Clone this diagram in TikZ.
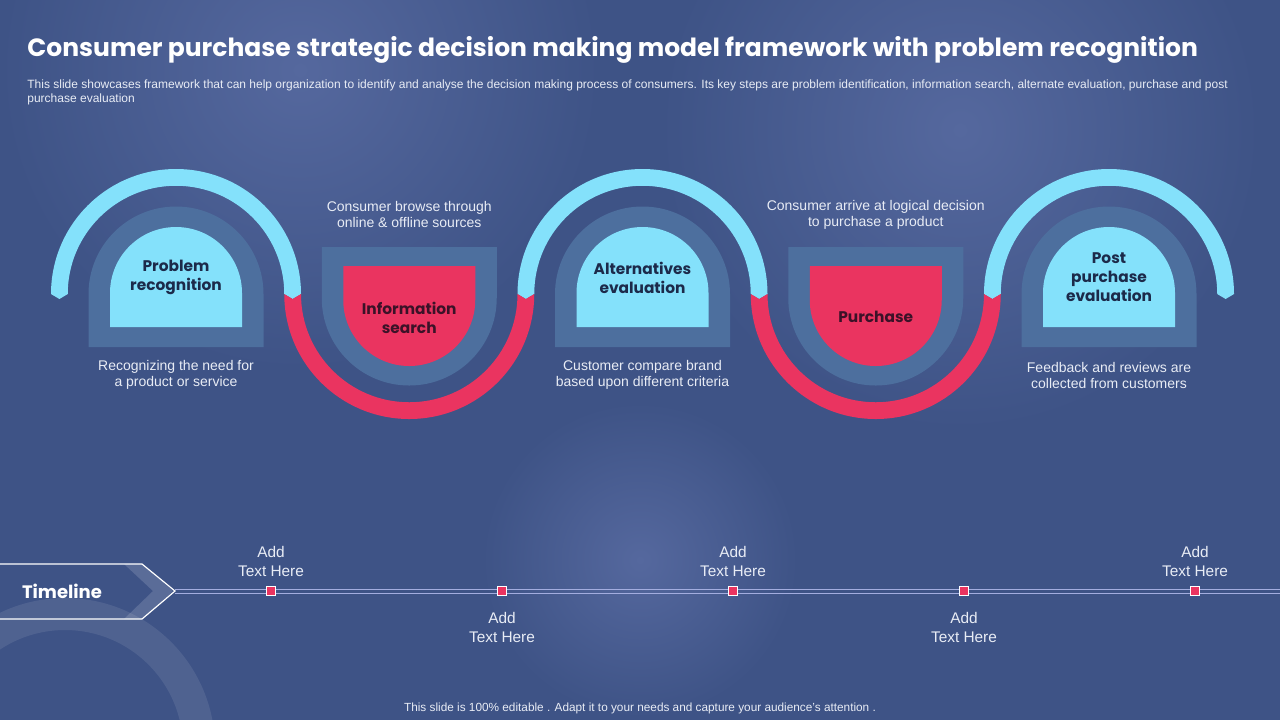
\documentclass[tikz,border=0pt]{standalone}
\usepackage{fontspec}
\setmainfont{Liberation Sans}
\newfontfamily\gothic{Poppins}
\usetikzlibrary{positioning}
\definecolor{slidebg}{HTML}{3E5386}
\definecolor{slideglow}{HTML}{55689E}
\definecolor{cyanband}{HTML}{84E1FB}
\definecolor{pinkband}{HTML}{EA3460}
\definecolor{steelblue}{HTML}{4D6F9E}
\definecolor{darktext}{HTML}{1C2A4A}
\definecolor{winetext}{HTML}{3B1228}
\definecolor{paletext}{HTML}{E8ECF5}
\definecolor{lavender}{HTML}{A3ADDF}

\begin{document}
\begin{tikzpicture}[x=0.5pt, y=0.5pt]

    % Styly
    \tikzstyle{headline} = [anchor=west, inner sep=0, text=white, font=\gothic\bfseries\fontsize{12.5}{14}\selectfont]
    \tikzstyle{subline} = [anchor=north west, inner sep=0, align=left, text=paletext, font=\fontsize{6}{7}\selectfont]
    \tikzstyle{caption} = [align=center, inner sep=0, text=paletext, font=\fontsize{7}{8}\selectfont]
    \tikzstyle{steplabel} = [align=center, inner sep=0, text=darktext, font=\gothic\bfseries\fontsize{7.7}{9.5}\selectfont]
    \tikzstyle{buylabel} = [steplabel, text=winetext]
    \tikzstyle{steel} = [fill=steelblue]
    \tikzstyle{glare} = [inner color=slideglow, outer color=slidebg]
    \tikzstyle{marker} = [rectangle, fill=pinkband, draw=white, line width=0.5pt, minimum size=4.4pt, inner sep=0]
    \tikzstyle{addtext} = [align=center, inner sep=0, text=paletext, font=\fontsize{7.7}{9.5}\selectfont]
    \tikzstyle{tline} = [draw=lavender, line width=0.5pt]

    % Pozadi
    \useasboundingbox (0,0) rectangle (1280,-720);
    \fill[slidebg] (0,0) rectangle (1280,-720);
    \shade[glare] (300,-70) circle (300);
    \shade[glare] (640,-560) circle (158);
    \shade[glare] (960,-130) circle (300);
    \fill[white, opacity=0.09, even odd rule] (65,-748) circle (150) (65,-748) circle (118);

    % Nadpis
    \node[headline] (title) at (27,-50) {Consumer purchase strategic decision making model framework with problem recognition};
    \node[subline] (intro) at (27,-79) {This slide showcases framework that can help organization to identify and analyse the decision making process of consumers. Its key  steps are problem identification, information search, alternate evaluation, purchase and post\\purchase evaluation};

    % Oblouky a tvary kroku
    \foreach \cx in {176,642.5,1109} {
        \fill[cyanband] (\cx-125,-294) arc(180:0:125) -- (\cx+116.6,-299) -- (\cx+108.25,-294) arc(0:180:108.25) -- (\cx-116.6,-299) -- cycle;
        \fill[steel] (\cx-87.5,-347) -- (\cx-87.5,-294) arc(180:0:87.5) -- (\cx+87.5,-347) -- cycle;
        \fill[cyanband] (\cx-66,-327) -- (\cx-66,-293) arc(180:0:66) -- (\cx+66,-327) -- cycle;
    }
    \foreach \cx in {409.25,875.75} {
        \fill[pinkband] (\cx-125,-294) arc(180:360:125) -- (\cx+116.6,-299) -- (\cx+108.25,-294) arc(360:180:108.25) -- (\cx-116.6,-299) -- cycle;
        \fill[steel] (\cx-87.5,-247) -- (\cx-87.5,-298) arc(180:360:87.5) -- (\cx+87.5,-247) -- cycle;
        \fill[pinkband] (\cx-66,-266) -- (\cx-66,-300) arc(180:360:66) -- (\cx+66,-266) -- cycle;
    }

    % Popisky kroku
    \node[steplabel] (problem) at (176,-277.5) {Problem\\recognition};
    \node[buylabel] (search) at (409.25,-317.5) {Information\\search};
    \node[steplabel] (alternatives) at (642.5,-277.5) {Alternatives\\evaluation};
    \node[buylabel] (purchase) at (875.75,-317) {Purchase};
    \node[steplabel] (post) at (1109,-277) {Post\\purchase\\evaluation};

    % Popisky po stranach
    \node[caption] (need) at (176,-375) {Recognizing the need for\\a product or service};
    \node[caption] (browse) at (409.25,-214) {Consumer browse through\\online \& offline sources};
    \node[caption] (compare) at (642.5,-375) {Customer compare brand\\based upon different criteria};
    \node[caption] (decide) at (875.75,-215) {Consumer arrive at logical decision\\to purchase a product};
    \node[caption] (feedback) at (1109,-375) {Feedback and reviews are\\collected from customers};

    % Casova osa
    \fill[white, opacity=0.15] (124,-564) -- (142,-564) -- (173,-591) -- (142,-619) -- (124,-619) -- (153,-591) -- cycle;
    \draw[white, line width=0.6pt] (0,-564) -- (142,-564) -- (175,-591) -- (142,-619) -- (0,-619);
    \node[font=\gothic\bfseries\fontsize{9}{11}\selectfont, text=white, inner sep=0] (timeline) at (62,-591) {Timeline};
    \coordinate (tip) at (175,-591);
    \coordinate (tend) at (1280,-591);
    \draw[tline, transform canvas={yshift=1pt}] (tip) -- (tend);
    \draw[tline, transform canvas={yshift=-1pt}] (tip) -- (tend);

    \node[marker] (m1) at (271,-591) {};
    \node[marker] (m2) at (502,-591) {};
    \node[marker] (m3) at (733,-591) {};
    \node[marker] (m4) at (964,-591) {};
    \node[marker] (m5) at (1195,-591) {};

    \node[addtext, above=4.5pt of m1] (t1) {Add\\Text Here};
    \node[addtext, below=8pt of m2] (t2) {Add\\Text Here};
    \node[addtext, above=4.5pt of m3] (t3) {Add\\Text Here};
    \node[addtext, below=8pt of m4] (t4) {Add\\Text Here};
    \node[addtext, above=4.5pt of m5] (t5) {Add\\Text Here};

    % Zapati
    \node[text=paletext, inner sep=0, font=\fontsize{5.9}{7}\selectfont] (footer) at (640,-708) {This slide is 100\% editable . Adapt it to your needs and capture your audience's attention .};

\end{tikzpicture}
\end{document}
